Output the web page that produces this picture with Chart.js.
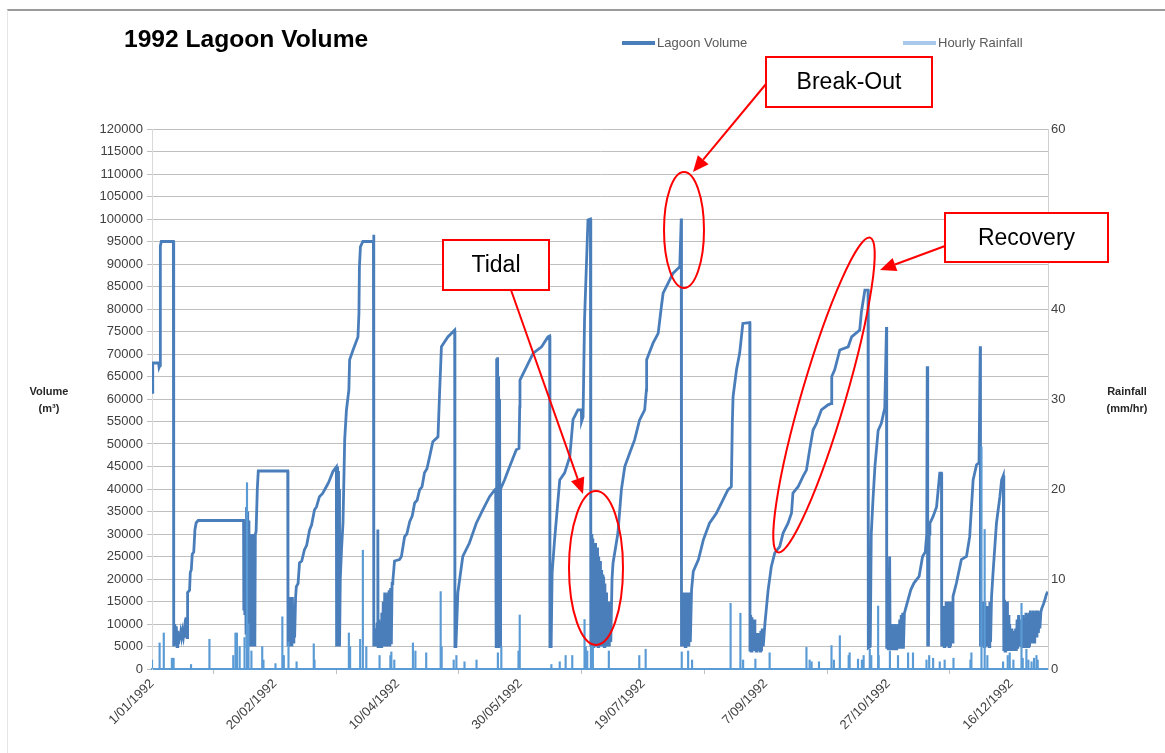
<!DOCTYPE html>
<html>
<head>
<meta charset="utf-8">
<script src="https://cdn.jsdelivr.net/npm/chart.js@4.4.1/dist/chart.umd.min.js"></script>
<style>
  body { margin: 0; background: #fff; font-family: 'Liberation Sans', Arial, sans-serif; }
  #wrap { position: relative; width: 1165px; height: 753px; overflow: hidden; }
  #frame { position: absolute; left: 7px; top: 9px; right: 0; bottom: 0; border-top: 2px solid #9a9a9a; border-left: 1px solid #e6e6e6; }
  canvas { position: absolute; left: 0; top: 0; }
  .title { position: absolute; left: 124px; top: 27px; font-size: 24.6px; line-height: 24px; font-weight: bold; color: #000; }
  .leg { position: absolute; top: 36px; font-size: 13px; line-height: 14px; color: #595959; }
  .leg i { display: inline-block; width: 33px; height: 4px; vertical-align: middle; margin-right: 2px; position: relative; top: -1px; }
  .axt { position: absolute; font-size: 11px; font-weight: bold; color: #262626; text-align: center; line-height: 17px; }
</style>
</head>
<body>
<div id="wrap">
  <div id="frame"></div>
  <canvas id="c" width="1165" height="753"></canvas>
  <div class="title">1992 Lagoon Volume</div>
  <div class="leg" style="left:622px"><i style="background:#4a7ebb"></i>Lagoon Volume</div>
  <div class="leg" style="left:903px"><i style="background:#a9c9eb"></i>Hourly Rainfall</div>
  <div class="axt" style="left:22px; top:383px; width:54px">Volume<br>(m³)</div>
  <div class="axt" style="left:1094px; top:383px; width:66px">Rainfall<br>(mm/hr)</div>
</div>
<script>
// x axis ticks (day of year) and their labels
const tickDays = [0, 50, 100, 150, 200, 250, 300, 350];
const tickLabels = ['1/01/1992', '20/02/1992', '10/04/1992', '30/05/1992', '19/07/1992', '7/09/1992', '27/10/1992', '16/12/1992'];

// lagoon volume (m3); day of year
const volDays = [
  0,0.3,2.7,2.9,3.3,3.4,3.8,8.7,8.8,8.9,
  9.1,9.3,9.6,9.9,10.2,10.5,10.8,11.1,11.4,11.7,
  12.0,12.4,12.8,13.2,13.6,14.0,14.3,14.5,15.3,15.6,
  16.0,16.4,17.0,17.5,18.0,18.8,37.3,37.4,37.6,37.8,
  38.0,38.3,38.5,38.7,38.9,39.1,39.3,39.5,39.7,39.9,
  40.1,40.3,40.5,40.7,40.9,41.1,41.3,41.5,41.7,41.9,
  42.1,42.4,42.9,43.3,55.3,55.4,55.6,55.8,56.0,56.2,
  56.4,56.6,56.8,57.0,57.2,57.5,57.8,58.1,58.5,58.8,
  59.5,60.1,61.0,62.1,63.0,64.2,65.0,66.2,67.0,68.2,
  69.5,71.0,72.0,73.7,75.1,75.2,75.4,75.6,75.8,76.0,
  76.2,76.4,76.7,77.2,77.8,78.5,79.2,80.2,80.5,81.9,
  83.9,84.3,84.5,84.9,85.9,90.2,90.3,90.4,91.0,91.3,
  91.7,92.0,92.1,92.4,92.7,93.0,93.3,93.6,93.9,94.2,
  94.5,94.8,95.1,95.4,95.7,96.0,96.3,96.6,96.9,97.2,
  97.5,97.8,98.1,98.8,100.8,101.6,102.9,103.8,105.0,106.0,
  107.0,108.0,109.0,110.0,111.0,112.0,113.1,114.4,116.5,117.2,
  117.9,120.5,123.3,123.4,123.8,124.6,126.6,129.3,132.1,134.8,
  137.5,139.6,140.0,140.2,140.4,140.6,140.8,141.0,141.2,141.4,
  141.6,141.8,142.0,143.6,145.7,148.4,149.5,149.8,149.9,152.6,
  155.3,158.7,161.3,162.0,162.1,162.6,163.0,164.0,166.1,168.1,
  170.2,171.5,173.5,174.9,175.0,175.6,176.2,177.6,178.6,178.7,
  178.8,179.0,179.2,179.4,179.6,179.8,180.0,180.2,180.5,180.7,
  181.0,181.2,181.5,181.7,182.0,182.2,182.5,182.7,183.0,183.2,
  183.5,183.7,184.0,184.2,184.5,184.7,185.0,185.2,185.5,185.7,
  186.0,186.3,186.6,186.9,187.4,187.8,189.8,191.2,192.6,194.6,
  196.6,198.6,200.7,201.4,201.5,204.1,206.2,207.5,208.2,210.2,
  212.2,215.0,215.6,215.7,216.0,216.2,216.5,216.7,217.0,217.2,
  217.5,217.7,218.0,218.2,218.5,218.7,219.0,219.3,219.8,220.5,
  222.6,224.6,227.1,229.9,232.6,234.6,236.0,236.4,236.7,238.1,
  239.4,240.7,243.5,243.6,243.9,244.1,244.4,244.6,244.9,245.1,
  245.4,245.6,245.9,246.1,246.4,246.6,246.9,247.1,247.4,247.7,
  248.0,248.3,248.6,249.0,249.7,251.0,252.3,253.7,255.7,257.1,
  259.1,260.5,261.1,263.2,265.2,266.6,267.9,269.3,270.7,272.7,
  275.4,276.8,276.9,278.1,280.2,283.6,285.0,288.3,289.0,290.4,
  291.7,291.8,292.6,293.0,293.7,294.5,295.8,297.1,298.5,299.2,
  299.3,299.6,299.9,300.2,300.5,300.7,301.0,301.3,301.6,301.9,
  302.2,302.5,302.8,303.1,303.4,303.7,304.0,304.3,304.6,304.9,
  305.2,305.5,305.8,306.1,306.5,309.1,310.4,312.5,313.9,315.0,
  315.6,315.8,315.9,316.1,316.3,316.6,316.9,318.2,319.6,320.9,
  321.6,321.7,322.0,322.2,322.5,322.7,323.0,323.2,323.5,323.7,
  324.0,324.2,324.5,324.7,325.0,325.3,325.6,325.9,326.3,327.7,
  329.7,331.8,333.1,334.5,335.9,336.9,337.4,337.5,337.8,338.0,
  338.3,338.5,338.8,339.0,339.3,339.5,339.8,340.0,340.3,340.5,
  340.8,341.0,341.3,341.6,342.0,342.6,344.0,345.4,346.1,346.8,
  347.0,347.3,347.5,347.8,348.0,348.3,348.5,348.8,349.1,349.4,
  349.7,350.0,350.3,350.6,350.9,351.2,351.5,351.8,352.1,352.4,
  352.7,353.0,353.3,353.6,353.9,354.2,354.5,354.8,355.1,355.4,
  355.7,356.0,356.3,356.6,356.9,357.2,357.5,357.8,358.1,358.4,
  358.7,359.0,359.3,359.6,359.9,360.2,360.5,360.8,361.1,361.4,
  361.7,362.1,362.5,363.2,363.8,364.3,364.9
];
const volM3 = [
  61500,68000,68000,67000,67500,94000,95000,95000,5000,10500,
  5500,10000,5200,9500,5000,8500,5500,8000,6500,8000,
  7000,8500,7200,9000,7000,11500,7000,17000,17500,21500,
  22000,25500,26000,31000,32500,33000,33000,13000,32000,12000,
  30000,8000,36000,5000,35000,5000,33000,5000,20000,5000,
  30000,5000,30000,5000,30000,5000,30000,5000,29000,5000,
  30000,30500,40000,44000,44000,5000,16000,5000,15000,5000,
  16000,5000,14000,5000,16000,6000,14000,7000,16000,18300,
  19000,23600,24000,26500,27500,30900,32000,35400,36000,38300,
  39000,40500,41500,43900,44900,5000,45000,5000,44000,5000,
  40000,5000,20000,26500,32400,51000,57500,62000,68700,70900,
  73800,79000,89400,93800,95000,95000,96500,5000,9000,5000,
  10000,31000,5000,11000,5000,10500,5000,12500,5000,15000,
  5000,17000,5000,16500,5000,17000,5000,17500,5000,18000,
  5500,19000,19500,24000,24300,25000,29400,30000,32800,34000,
  36900,37500,39800,40500,43600,44500,47200,50500,51600,62000,
  71600,73800,75300,5000,5000,17000,25000,28000,32400,35400,
  38300,39800,40000,5000,69000,5000,69300,5000,65000,5000,
  60000,5000,40000,42000,45000,48700,49000,58300,64200,67200,
  70200,71600,73800,74000,5000,5000,21400,28700,42000,43600,
  47200,55400,57600,57600,55000,56000,77600,99800,100000,5000,
  31000,5000,30000,5000,29000,5000,27000,5000,28000,5000,
  26000,5000,27000,5000,25000,5000,24000,5000,22000,5000,
  21000,5000,20500,5000,19000,5000,17000,5000,15000,5000,
  14500,5000,15000,6000,20000,23500,30200,39800,45000,48000,
  50900,55300,57600,62000,68700,72400,74600,80500,83500,85700,
  87900,89400,100100,5000,16000,5000,17000,5000,17000,5000,
  16500,5000,17000,5000,16000,5000,17000,6000,17600,21700,
  24300,28700,32400,34600,37600,39800,40500,54600,60500,66500,
  70200,76800,77000,3900,12000,4000,11500,4000,9000,4000,
  11000,4000,8000,4000,7000,4000,8000,4000,7500,4000,
  8500,4000,9000,5000,10200,17600,22800,25800,27200,30200,
  32400,34600,39100,40500,42800,44200,48700,53100,54600,57600,
  58700,59000,65000,66500,70900,71600,73800,75300,79400,84200,
  84200,4700,5000,30000,37600,45000,53000,54600,58000,76000,
  4500,10000,4500,10000,25000,4500,9000,4500,10000,4500,
  9500,4500,10000,4500,9000,4500,10000,4500,11000,4500,
  12000,4500,12500,4500,12400,17600,19100,20600,25000,26000,
  30000,67300,5000,25000,5000,30000,32400,33900,36000,43500,
  43500,5000,13000,5000,14000,5000,12000,5000,15000,5000,
  13000,5000,15000,5000,12000,5000,15000,6000,16100,19100,
  24300,25000,29400,42000,45400,45800,71700,5000,12000,5000,
  15000,5000,13000,5000,15000,5000,12000,5000,14000,5000,
  11000,5000,15000,6000,16000,21300,32400,38300,42000,43000,
  4000,15400,4000,14000,4000,15000,4000,12000,4000,10000,
  4000,9000,4000,8500,4000,8000,4000,9000,4000,11000,
  4500,12000,5000,10000,5000,11000,5000,12000,5000,11500,
  5000,12500,5000,12000,5000,12500,5000,13000,6000,12500,
  6000,13000,6000,12500,7000,13000,7000,13000,8000,12800,
  9000,12700,13500,14500,15500,16500,17200
];

// hourly rainfall spikes (mm/hr), day of year
const rainDays = [
  0.0,3.1,4.8,8.1,8.8,15.9,23.4,33.1,34.0,34.6,
  35.7,37.7,38.7,39.3,40.5,44.9,45.4,50.3,53.1,53.7,
  55.6,58.9,65.9,66.2,80.2,80.7,84.8,85.9,87.3,92.7,
  97.1,97.5,98.7,106.3,107.3,111.7,117.6,118.0,122.9,124.0,
  127.3,132.2,140.9,142.3,149.3,149.8,162.7,166.1,168.5,171.2,
  176.2,176.7,177.3,178.8,179.6,186.1,198.5,201.1,215.8,218.4,
  220.0,235.7,239.7,240.8,245.8,251.6,266.6,267.9,268.7,271.7,
  276.8,277.8,280.2,283.8,284.2,287.6,289.2,289.9,292.4,293.0,
  295.8,296.0,300.6,303.9,308.0,310.0,315.5,316.6,318.2,320.9,
  322.9,326.5,333.4,333.8,337.9,339.2,340.3,346.7,348.6,349.4,
  350.9,354.2,354.7,356.2,357.0,358.3,359.3,360.3,360.8
];
const rainMm = [
  1.0,2.9,4.0,1.2,1.2,0.5,3.3,1.5,4.0,4.0,
  2.5,3.5,20.7,5.0,2.0,2.5,1.0,0.6,5.8,1.5,
  3.0,0.8,2.8,1.0,4.0,2.5,3.3,13.2,2.5,1.5,
  1.5,1.9,1.0,2.9,2.0,1.8,8.6,2.5,1.0,1.5,
  0.8,1.0,1.8,2.5,2.0,6.0,0.5,0.8,1.5,1.5,
  5.5,2.5,2.0,2.5,2.5,2.0,1.5,2.2,1.9,2.0,
  1.0,7.3,6.2,1.0,1.1,1.8,2.4,1.0,0.8,0.8,
  2.6,1.0,3.7,1.5,1.8,1.1,1.0,1.5,2.2,1.5,
  7.0,1.5,2.0,1.5,1.8,1.8,1.0,1.5,1.2,0.8,
  1.0,1.2,1.0,1.8,24.7,15.5,1.5,0.8,1.5,1.8,
  1.0,7.3,1.2,2.2,1.0,0.8,1.2,1.5,1.0
];

const volumeData = volDays.map((d, i) => ({ x: d, y: volM3[i] }));
const rainData = rainDays.map((d, i) => ({ x: d, y: rainMm[i] }));

// callouts (red boxes, ellipses, arrows) drawn over the chart
const callouts = {
  id: 'callouts',
  afterDraw(chart) {
    const ctx = chart.ctx;
    ctx.save();
    ctx.strokeStyle = '#ff0000';
    ctx.fillStyle = '#ff0000';
    ctx.lineWidth = 2;

    const ellipse = (cx, cy, rx, ry, rot) => {
      ctx.beginPath();
      ctx.ellipse(cx, cy, rx, ry, rot, 0, Math.PI * 2);
      ctx.stroke();
    };
    const arrow = (x1, y1, x2, y2) => {
      const a = Math.atan2(y2 - y1, x2 - x1);
      const len = 16, half = 7;
      const bx = x2 - len * Math.cos(a), by = y2 - len * Math.sin(a);
      ctx.beginPath();
      ctx.moveTo(x1, y1);
      ctx.lineTo(bx, by);
      ctx.stroke();
      ctx.beginPath();
      ctx.moveTo(x2, y2);
      ctx.lineTo(bx + half * Math.sin(a), by - half * Math.cos(a));
      ctx.lineTo(bx - half * Math.sin(a), by + half * Math.cos(a));
      ctx.closePath();
      ctx.fill();
    };
    const box = (x, y, w, h, text) => {
      ctx.fillStyle = '#ffffff';
      ctx.fillRect(x, y, w, h);
      ctx.strokeRect(x, y, w, h);
      ctx.fillStyle = '#000000';
      ctx.font = '23px "Liberation Sans", Arial, sans-serif';
      ctx.textAlign = 'center';
      ctx.textBaseline = 'middle';
      ctx.fillText(text, x + w / 2, y + h / 2 + 1);
      ctx.fillStyle = '#ff0000';
    };

    ellipse(684, 230, 20, 58, 0);
    ellipse(596, 568, 27, 77, 0);
    ellipse(824, 395, 22, 164, 0.285);

    arrow(766, 84, 693, 172);
    arrow(511, 290, 583, 494);
    arrow(945, 246, 880, 270);

    box(766, 57, 166, 50, 'Break-Out');
    box(443, 240, 106, 50, 'Tidal');
    box(945, 213, 163, 49, 'Recovery');
    ctx.restore();
  }
};

const tickFont = { family: "'Liberation Sans', Arial, sans-serif", size: 13 };

new Chart(document.getElementById('c'), {
  type: 'line',
  data: {
    datasets: [
      {
        type: 'bar',
        label: 'Hourly Rainfall',
        data: rainData,
        yAxisID: 'y1',
        backgroundColor: '#5b9bd5',
        barThickness: 1.5,
        order: 0
      },
      {
        label: 'Lagoon Volume',
        data: volumeData,
        yAxisID: 'y',
        borderColor: '#4a7ebb',
        borderWidth: 2.8,
        pointRadius: 0,
        tension: 0,
        fill: false,
        order: 1
      }
    ]
  },
  options: {
    responsive: false,
    animation: false,
    layout: { padding: { top: 129, left: 0, right: 0, bottom: 0 } },
    plugins: { legend: { display: false }, tooltip: { enabled: false } },
    scales: {
      x: {
        type: 'linear',
        min: 0,
        max: 365,
        offset: false,
        afterBuildTicks: scale => { scale.ticks = tickDays.map(v => ({ value: v })); },
        afterFit: scale => { scale.height = 84; },
        grid: { drawOnChartArea: false, drawTicks: true, tickLength: 5, color: '#bfbfbf' },
        border: { color: '#5b9bd5', width: 2 },
        ticks: {
          minRotation: 45,
          maxRotation: 45,
          padding: 2,
          color: '#404040',
          font: tickFont,
          callback: (value, index) => tickLabels[index]
        }
      },
      y: {
        position: 'left',
        min: 0,
        max: 120000,
        afterFit: scale => { scale.width = 152; },
        grid: { color: '#bfbfbf', lineWidth: 1, drawTicks: true, tickLength: 5 },
        border: { color: '#d9d9d9' },
        ticks: { stepSize: 5000, padding: 4, color: '#404040', font: tickFont, callback: v => String(v) }
      },
      y1: {
        position: 'right',
        min: 0,
        max: 60,
        afterFit: scale => { scale.width = 117; },
        grid: { drawOnChartArea: false, drawTicks: false },
        border: { color: '#d0d0d0' },
        ticks: { stepSize: 10, padding: 3, color: '#404040', font: tickFont }
      }
    }
  },
  plugins: [callouts]
});
</script>
</body>
</html>
